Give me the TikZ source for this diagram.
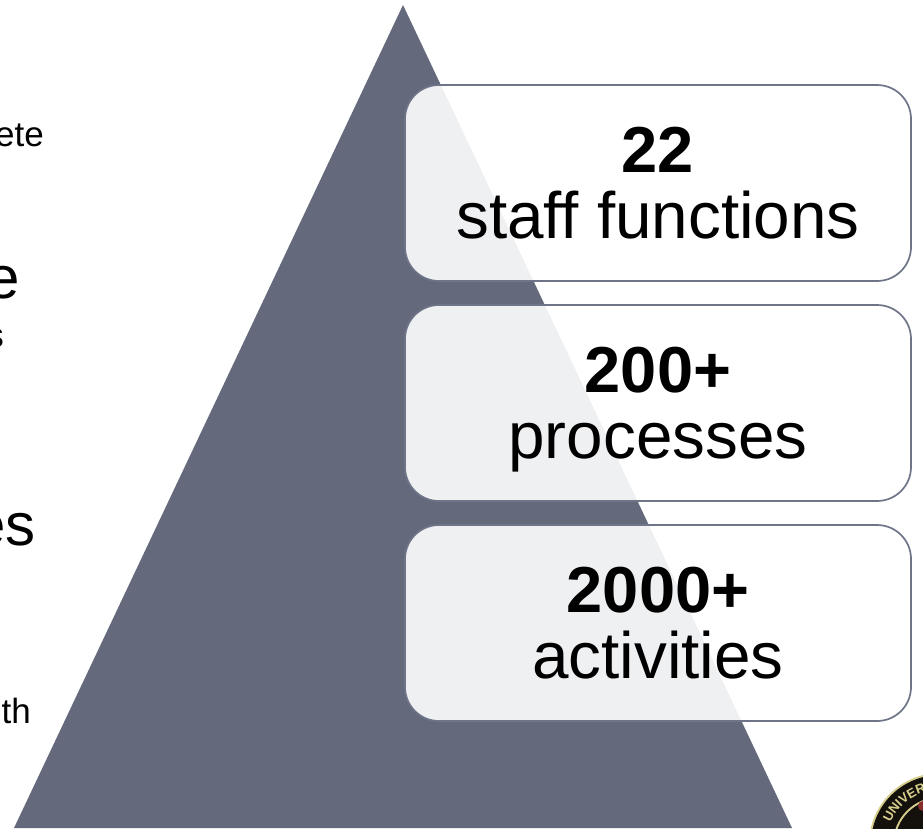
\documentclass[tikz,border=0pt]{standalone}
\usepackage{fontspec}
\setmainfont{Liberation Sans}
\usetikzlibrary{decorations.text}
\definecolor{slate}{HTML}{646A7C}
\definecolor{edgeblue}{HTML}{6F7589}
\definecolor{sealgold}{HTML}{D8CF8E}
\definecolor{sealdark}{HTML}{14110C}
\definecolor{sealred}{HTML}{8A2B2B}
\tikzset{
  panel/.style={draw=edgeblue,line width=1.7pt,fill=white,fill opacity=0.9,draw opacity=1,rounded corners=34pt,minimum width=506pt,minimum height=196pt,inner sep=0pt},
  numtext/.style={font=\fontsize{65}{66}\selectfont\bfseries,anchor=base,inner sep=0pt,text=black},
  wordtext/.style={font=\fontsize{65.6}{66}\selectfont,anchor=base,inner sep=0pt,text=black},
  sidesmall/.style={font=\fontsize{35}{36}\selectfont,anchor=base east,inner sep=0pt,text=black},
  sidelarge/.style={font=\fontsize{60}{62}\selectfont,anchor=base east,inner sep=0pt,text=black}
}
\begin{document}
\begin{tikzpicture}[x=1pt,y=-1pt]
\useasboundingbox (0,0) rectangle (923,828);
\fill[white] (0,0) rectangle (923,828);
% side text fragments
\node[sidesmall] (t1) at (44,146) {ete};
\node[sidelarge] (t2) at (20,298) {e};
\node[sidesmall] (t3) at (4,347) {s};
\node[sidelarge] (t4) at (36,545) {es};
\node[sidesmall] (t5) at (31,723) {th};
% pyramid
\fill[slate] (403,5) -- (792,828) -- (14,828) -- cycle;
% seal
\begin{scope}
\clip (0,0) rectangle (923,828);
\fill[sealgold] (940,844) circle (71);
\fill[sealdark] (940,844) circle (69);
\fill[sealgold] (940,844) circle (47);
\fill[sealdark] (940,844) circle (45);
\fill[sealred] (923,806) circle (5);
\path[decorate,decoration={text along path,text={|\fontsize{13}{13}\selectfont\bfseries\color{sealgold}|UNIVER},text align={left indent=0pt}}]
  (890.5,823) arc[start angle=203,end angle=300,radius=54];
\end{scope}
% panels
\node[panel] (box1) at (658,183) {};
\node[panel] (box2) at (658,403) {};
\node[panel] (box3) at (658,623) {};
\node[numtext] (n1) at ([yshift=11pt]box1.center) {22};
\node[wordtext] (w1) at ([yshift=-55pt]box1.center) {staff functions};
\node[numtext] (n2) at ([yshift=11pt]box2.center) {200+};
\node[wordtext] (w2) at ([yshift=-55pt]box2.center) {processes};
\node[numtext] (n3) at ([yshift=11pt]box3.center) {2000+};
\node[wordtext] (w3) at ([yshift=-55pt]box3.center) {activities};
\end{tikzpicture}
\end{document}
